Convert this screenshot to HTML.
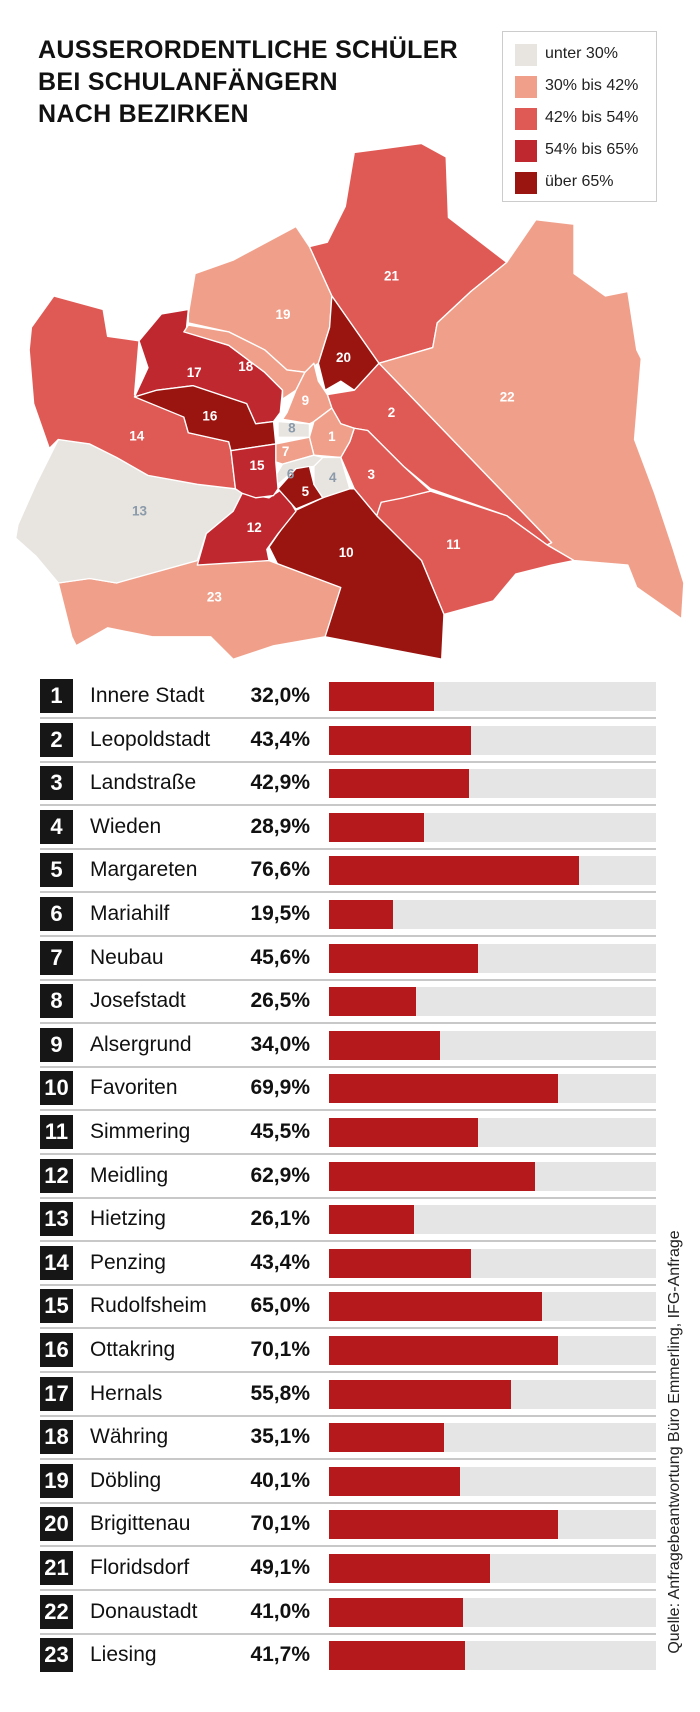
<!DOCTYPE html>
<html><head><meta charset="utf-8"><style>
body{margin:0;width:700px;height:1712px;background:#fff;position:relative;overflow:hidden;font-family:"Liberation Sans",sans-serif;}
.t{position:absolute;left:38px;top:34px;font-weight:bold;font-size:25px;line-height:32px;color:#111;letter-spacing:0.3px}
.lg{position:absolute;left:502px;top:31px;width:155px;height:171px;border:1px solid #ccc;box-sizing:border-box}
.lg div{position:absolute;left:12px;width:22px;height:22px}
.lg span{position:absolute;left:42px;font-size:16px;color:#222}
.row{position:absolute;left:0;width:700px;height:44px}
.bx{position:absolute;left:40px;top:0;width:33px;height:34px;background:#161616;color:#fff;font-weight:bold;font-size:22px;text-align:center;line-height:34px}
.nm{position:absolute;left:90px;top:0;line-height:34px;font-size:21px;color:#111}
.pc{position:absolute;left:200px;width:110px;text-align:right;top:0;line-height:34px;font-size:21px;font-weight:bold;color:#111}
.bg{position:absolute;left:329px;top:3px;width:327px;height:29px;background:#e5e5e5}
.br{position:absolute;left:0;top:0;height:29px;background:#b5191b}
.sep{position:absolute;left:40px;width:616px;top:38px;height:2px;background:#c8c8c8}
.src{position:absolute;left:675px;top:1442px;transform:translate(-50%,-50%) rotate(-90deg);white-space:nowrap;font-size:16px;color:#222}
</style></head><body>
<div class="t">AUSSERORDENTLICHE SCHÜLER<br>BEI SCHULANFÄNGERN<br>NACH BEZIRKEN</div>
<div class="lg">
<div style="top:12px;background:#e8e4df"></div><span style="top:13px">unter 30%</span>
<div style="top:44px;background:#f0a08a"></div><span style="top:45px">30% bis 42%</span>
<div style="top:76px;background:#e05a55"></div><span style="top:77px">42% bis 54%</span>
<div style="top:108px;background:#c0282f"></div><span style="top:109px">54% bis 65%</span>
<div style="top:140px;background:#9a1410"></div><span style="top:141px">über 65%</span>
</div>
<svg style="position:absolute;left:0;top:0" width="700" height="670" viewBox="0 0 1561 1494">
<g stroke="#fff" stroke-width="3" stroke-linejoin="round">
<polygon fill="#e05a55" points="690,550 730,540 770,460 790,340 940,320 995,350 1000,485 1130,585 1050,650 975,720 965,775 845,810 740,660"/>
<polygon fill="#f0a08a" points="845,810 965,775 975,720 1050,650 1130,585 1195,490 1280,500 1280,610 1350,660 1400,650 1420,780 1430,800 1415,980 1460,1100 1500,1220 1525,1300 1520,1380 1420,1310 1400,1260 1280,1250 1220,1215 1230,1210"/>
<polygon fill="#e05a55" points="730,880 790,870 845,810 1230,1210 1220,1215 1130,1150 960,1090 900,1040 820,960 790,955 760,945 740,910"/>
<polygon fill="#e05a55" points="840,1150 850,1120 960,1095 1130,1150 1220,1215 1280,1250 1230,1260 1150,1280 1100,1340 990,1370 940,1250 870,1180"/>
<polygon fill="#e05a55" points="790,955 820,960 900,1040 960,1095 900,1110 850,1120 840,1150 790,1090 760,1020 780,985"/>
<polygon fill="#9a1410" points="600,1220 655,1140 720,1110 760,1090 790,1090 840,1150 870,1180 940,1250 990,1370 985,1470 725,1420 745,1310 620,1260"/>
<polygon fill="#f0a08a" points="130,1300 200,1290 260,1300 440,1240 600,1250 760,1310 725,1420 610,1440 520,1470 470,1420 340,1420 240,1400 170,1440 160,1420"/>
<polygon fill="#e8e4df" points="40,1170 80,1080 130,980 200,990 260,1020 330,1060 440,1080 525,1090 540,1100 520,1140 460,1190 440,1250 260,1300 200,1290 130,1300 80,1240 35,1200"/>
<polygon fill="#c0282f" points="540,1100 600,1110 630,1090 660,1140 620,1190 595,1225 600,1250 440,1260 460,1190 520,1140"/>
<polygon fill="#e05a55" points="70,730 120,660 230,690 240,750 310,760 300,880 410,930 420,965 510,985 515,1005 525,1090 440,1080 330,1060 260,1020 200,990 130,980 110,1000 75,900 65,780"/>
<polygon fill="#f0a08a" points="420,700 435,610 520,580 660,505 690,550 740,660 735,730 710,810 680,830 640,825 590,780 510,740 420,720"/>
<polygon fill="#9a1410" points="740,660 845,810 790,870 760,850 725,870 710,810 735,730"/>
<polygon fill="#c0282f" points="310,760 360,700 420,690 415,740 510,770 590,830 630,870 625,920 610,940 570,945 550,900 430,860 350,870 300,885 330,820"/>
<polygon fill="#9a1410" points="300,885 350,870 430,860 550,900 570,945 610,940 615,990 515,1005 510,985 420,965 410,930"/>
<polygon fill="#f0a08a" points="410,740 420,725 510,740 590,780 640,825 680,830 660,870 630,890 630,870 590,830 510,770"/>
<polygon fill="#f0a08a" points="640,920 660,870 680,830 700,810 710,850 730,880 740,910 700,940 690,945 630,935"/>
<polygon fill="#e8e4df" points="620,940 690,945 690,975 620,975"/>
<polygon fill="#f0a08a" points="700,940 740,910 760,945 790,955 780,985 760,1020 700,1015 690,975"/>
<polygon fill="#f0a08a" points="615,990 690,975 700,1015 630,1035 615,1030"/>
<polygon fill="#e8e4df" points="630,1035 700,1015 720,1020 700,1040 660,1045 620,1080 615,1060"/>
<polygon fill="#9a1410" points="620,1090 660,1045 690,1040 700,1080 720,1110 660,1135"/>
<polygon fill="#e8e4df" points="700,1040 720,1020 760,1020 780,1090 720,1110 700,1080"/>
<polygon fill="#c0282f" points="515,1005 615,990 615,1030 620,1090 610,1105 570,1110 540,1100 525,1090"/>
</g>
<g font-family="Liberation Sans,sans-serif" font-weight="bold" font-size="30" fill="#fff" text-anchor="middle">
<text x="873" y="626">21</text><text x="1131" y="895">22</text><text x="631" y="711">19</text><text x="766" y="807">20</text>
<text x="548" y="827">18</text><text x="433" y="841">17</text><text x="468" y="938">16</text><text x="305" y="982">14</text>
<text x="681" y="903">9</text><text x="873" y="930">2</text><text x="740" y="983">1</text><text x="637" y="1017">7</text>
<text x="573" y="1048">15</text><text x="828" y="1068">3</text><text x="681" y="1106">5</text><text x="567" y="1186">12</text>
<text x="772" y="1242">10</text><text x="1011" y="1224">11</text><text x="478" y="1341">23</text>
<g fill="#8a9aaa"><text x="651" y="964">8</text><text x="648" y="1067">6</text><text x="742" y="1075">4</text><text x="311" y="1149">13</text></g>
</g>
</svg>
<div id="rows"></div>
<div class="row" style="top:679px"><div class="bx">1</div><div class="nm">Innere Stadt</div><div class="pc">32,0%</div><div class="bg"><div class="br" style="width:32.0%"></div></div><div class="sep"></div></div>
<div class="row" style="top:722.6px"><div class="bx">2</div><div class="nm">Leopoldstadt</div><div class="pc">43,4%</div><div class="bg"><div class="br" style="width:43.4%"></div></div><div class="sep"></div></div>
<div class="row" style="top:766.2px"><div class="bx">3</div><div class="nm">Landstraße</div><div class="pc">42,9%</div><div class="bg"><div class="br" style="width:42.9%"></div></div><div class="sep"></div></div>
<div class="row" style="top:809.8px"><div class="bx">4</div><div class="nm">Wieden</div><div class="pc">28,9%</div><div class="bg"><div class="br" style="width:28.9%"></div></div><div class="sep"></div></div>
<div class="row" style="top:853.4px"><div class="bx">5</div><div class="nm">Margareten</div><div class="pc">76,6%</div><div class="bg"><div class="br" style="width:76.6%"></div></div><div class="sep"></div></div>
<div class="row" style="top:897px"><div class="bx">6</div><div class="nm">Mariahilf</div><div class="pc">19,5%</div><div class="bg"><div class="br" style="width:19.5%"></div></div><div class="sep"></div></div>
<div class="row" style="top:940.6px"><div class="bx">7</div><div class="nm">Neubau</div><div class="pc">45,6%</div><div class="bg"><div class="br" style="width:45.6%"></div></div><div class="sep"></div></div>
<div class="row" style="top:984.2px"><div class="bx">8</div><div class="nm">Josefstadt</div><div class="pc">26,5%</div><div class="bg"><div class="br" style="width:26.5%"></div></div><div class="sep"></div></div>
<div class="row" style="top:1027.8px"><div class="bx">9</div><div class="nm">Alsergrund</div><div class="pc">34,0%</div><div class="bg"><div class="br" style="width:34.0%"></div></div><div class="sep"></div></div>
<div class="row" style="top:1071.4px"><div class="bx">10</div><div class="nm">Favoriten</div><div class="pc">69,9%</div><div class="bg"><div class="br" style="width:69.9%"></div></div><div class="sep"></div></div>
<div class="row" style="top:1115px"><div class="bx">11</div><div class="nm">Simmering</div><div class="pc">45,5%</div><div class="bg"><div class="br" style="width:45.5%"></div></div><div class="sep"></div></div>
<div class="row" style="top:1158.6px"><div class="bx">12</div><div class="nm">Meidling</div><div class="pc">62,9%</div><div class="bg"><div class="br" style="width:62.9%"></div></div><div class="sep"></div></div>
<div class="row" style="top:1202.2px"><div class="bx">13</div><div class="nm">Hietzing</div><div class="pc">26,1%</div><div class="bg"><div class="br" style="width:26.1%"></div></div><div class="sep"></div></div>
<div class="row" style="top:1245.8px"><div class="bx">14</div><div class="nm">Penzing</div><div class="pc">43,4%</div><div class="bg"><div class="br" style="width:43.4%"></div></div><div class="sep"></div></div>
<div class="row" style="top:1289.4px"><div class="bx">15</div><div class="nm">Rudolfsheim</div><div class="pc">65,0%</div><div class="bg"><div class="br" style="width:65.0%"></div></div><div class="sep"></div></div>
<div class="row" style="top:1333px"><div class="bx">16</div><div class="nm">Ottakring</div><div class="pc">70,1%</div><div class="bg"><div class="br" style="width:70.1%"></div></div><div class="sep"></div></div>
<div class="row" style="top:1376.6px"><div class="bx">17</div><div class="nm">Hernals</div><div class="pc">55,8%</div><div class="bg"><div class="br" style="width:55.8%"></div></div><div class="sep"></div></div>
<div class="row" style="top:1420.2px"><div class="bx">18</div><div class="nm">Währing</div><div class="pc">35,1%</div><div class="bg"><div class="br" style="width:35.1%"></div></div><div class="sep"></div></div>
<div class="row" style="top:1463.8px"><div class="bx">19</div><div class="nm">Döbling</div><div class="pc">40,1%</div><div class="bg"><div class="br" style="width:40.1%"></div></div><div class="sep"></div></div>
<div class="row" style="top:1507.4px"><div class="bx">20</div><div class="nm">Brigittenau</div><div class="pc">70,1%</div><div class="bg"><div class="br" style="width:70.1%"></div></div><div class="sep"></div></div>
<div class="row" style="top:1551px"><div class="bx">21</div><div class="nm">Floridsdorf</div><div class="pc">49,1%</div><div class="bg"><div class="br" style="width:49.1%"></div></div><div class="sep"></div></div>
<div class="row" style="top:1594.6px"><div class="bx">22</div><div class="nm">Donaustadt</div><div class="pc">41,0%</div><div class="bg"><div class="br" style="width:41.0%"></div></div><div class="sep"></div></div>
<div class="row" style="top:1638.2px"><div class="bx">23</div><div class="nm">Liesing</div><div class="pc">41,7%</div><div class="bg"><div class="br" style="width:41.7%"></div></div></div>
<div class="src">Quelle: Anfragebeantwortung Büro Emmerling, IFG-Anfrage</div>
</body></html>
